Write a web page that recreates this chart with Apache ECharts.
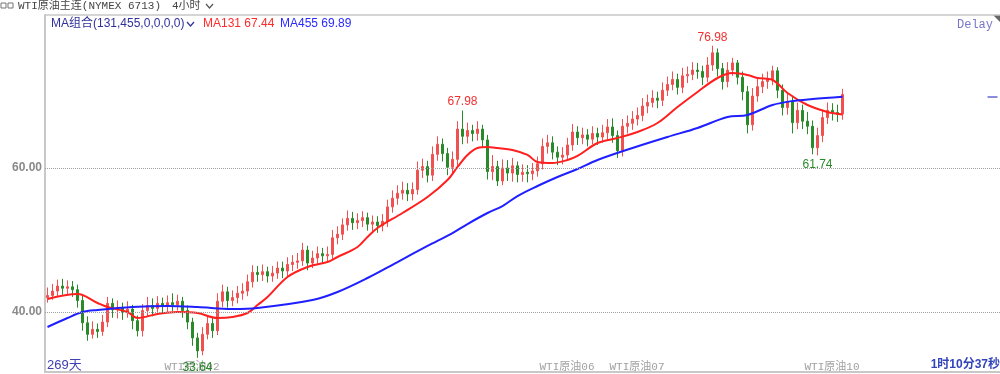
<!DOCTYPE html>
<html>
<head>
<meta charset="utf-8">
<script src="https://cdn.jsdelivr.net/npm/echarts@6/dist/echarts.min.js"></script>
<style>
  html, body { margin: 0; padding: 0; background: #fff; }
  #chart { width: 1000px; height: 374px; }
</style>
</head>
<body>
<div id="chart"></div>
<script>
// 4小时 K线, 每根约 5px，读图估值
const slotCount = 191;
const firstOpen = 42.0;
const closes = [
  42.3, 42.9, 43.6, 43.3, 43.5, 43.1, 41.6, 38.5, 36.9, 37.6,
  37.3, 38.6, 41.2, 40.3, 40.6, 40.0, 40.4, 38.8, 37.4, 40.2,
  40.9, 40.5, 41.2, 40.8, 41.3, 41.0, 41.5, 40.2, 38.6, 36.4,
  34.6, 36.9, 38.4, 37.4, 41.5, 42.8, 41.6, 42.0, 42.6, 42.9,
  44.2, 45.5, 45.2, 45.6, 45.0, 45.4, 46.1, 45.7, 46.6, 46.9,
  47.1, 48.6, 46.8, 47.5, 48.1, 47.8, 48.0, 50.3, 50.8, 52.1,
  53.0, 52.4, 52.7, 53.1, 52.2, 52.5, 52.0, 52.6, 54.6, 55.8,
  56.5, 56.9, 56.4, 57.0, 59.7, 60.2, 59.0, 61.9, 63.3, 62.0,
  60.1, 61.2, 65.4, 64.4, 65.2, 64.8, 65.4, 63.9, 59.5, 60.2,
  58.2, 60.0, 59.3, 60.3, 59.1, 59.4, 59.2, 59.6, 60.6, 63.0,
  63.5, 62.2, 61.5, 61.8, 63.2, 65.0, 64.2, 64.6, 64.0, 64.8,
  64.3, 64.9, 65.7, 64.5, 62.4, 65.8, 66.2, 66.8, 67.3, 68.6,
  69.1, 69.7, 69.4, 70.8, 71.6, 72.3, 71.2, 72.8, 73.0, 73.6,
  73.4, 72.6, 74.3, 76.0, 73.8, 72.0, 73.6, 74.6, 72.6, 70.6,
  66.0, 70.0, 71.3, 72.0, 72.3, 73.5, 70.8, 68.4, 69.2, 66.3,
  68.0, 66.5, 65.8, 62.8, 64.5, 67.0, 68.0, 67.7, 67.5, 70.2
];
const highs = [
  43.4, 43.9, 44.5, 44.6, 44.4, 44.3, 43.8, 42.3, 39.4, 38.7,
  38.4, 39.6, 42.1, 41.9, 41.6, 41.3, 41.5, 41.0, 39.5, 41.1,
  42.1, 41.9, 42.2, 42.0, 42.3, 42.6, 42.4, 42.1, 40.9, 39.2,
  37.1, 37.9, 39.4, 39.2, 42.6, 43.8, 43.5, 43.0, 43.6, 44.0,
  45.2, 46.5, 46.4, 46.6, 46.3, 46.4, 47.0, 47.0, 47.6, 47.9,
  48.2, 49.6, 49.2, 48.5, 49.1, 48.9, 49.1, 51.4, 51.9, 53.0,
  54.1, 53.9, 53.7, 54.0, 53.8, 53.4, 53.3, 53.6, 55.6, 56.9,
  57.6, 58.1, 57.9, 58.0, 60.9, 61.3, 61.0, 63.0, 64.4, 64.1,
  62.8, 62.3, 66.5, 67.98, 66.3, 66.0, 66.5, 66.0, 64.6, 61.8,
  61.0, 61.2, 61.1, 61.4, 60.9, 60.5, 60.4, 60.7, 61.6, 64.1,
  64.6, 64.4, 63.0, 62.9, 64.2, 66.1, 65.8, 65.6, 65.4, 65.8,
  65.6, 66.0, 66.8, 66.9, 65.2, 66.8, 67.3, 67.9, 68.4, 69.7,
  70.2, 70.8, 70.6, 71.9, 72.7, 73.4, 73.1, 73.9, 74.1, 74.7,
  74.6, 74.2, 75.4, 76.98, 76.6, 74.6, 74.7, 75.3, 75.0, 73.4,
  71.4, 71.1, 72.4, 73.1, 73.4, 74.2, 74.0, 71.6, 70.3, 70.0,
  69.1, 68.8, 67.8, 66.6, 65.6, 68.1, 69.1, 69.0, 68.8, 71.0
];
const lows = [
  41.3, 41.7, 42.2, 42.4, 42.4, 42.1, 40.6, 37.4, 36.0, 36.3,
  36.4, 36.7, 37.9, 39.2, 39.1, 38.9, 39.2, 37.6, 36.6, 36.6,
  39.3, 39.4, 39.8, 39.8, 40.0, 40.1, 40.2, 39.2, 37.6, 35.3,
  33.64, 34.0, 36.2, 36.4, 36.8, 40.7, 40.6, 40.8, 41.2, 41.7,
  42.2, 43.4, 44.2, 44.3, 44.1, 44.2, 44.6, 44.7, 44.9, 45.7,
  46.0, 46.4, 45.8, 46.1, 46.7, 46.8, 46.9, 47.2, 49.4, 50.0,
  51.3, 51.4, 51.5, 51.8, 51.3, 51.2, 51.0, 51.2, 51.8, 53.8,
  54.9, 55.6, 55.4, 55.5, 56.3, 58.6, 58.0, 58.2, 61.0, 60.9,
  59.0, 59.2, 60.3, 63.3, 63.4, 63.7, 63.8, 62.8, 58.4, 58.3,
  57.5, 57.6, 58.2, 58.1, 58.0, 58.1, 58.0, 58.3, 58.8, 59.8,
  62.0, 61.2, 60.4, 60.5, 61.0, 62.4, 63.2, 63.3, 63.0, 63.3,
  63.2, 63.5, 63.9, 63.5, 61.4, 61.6, 64.8, 65.3, 65.9, 66.5,
  67.6, 68.4, 68.3, 68.6, 70.0, 70.8, 70.2, 70.4, 71.8, 72.2,
  72.4, 71.5, 71.9, 73.5, 72.7, 70.9, 71.2, 72.8, 71.6, 69.4,
  64.8, 65.2, 69.2, 70.4, 71.0, 71.5, 69.7, 67.3, 67.4, 64.8,
  65.4, 65.4, 64.7, 61.9, 61.74, 63.6, 66.1, 66.6, 66.4, 66.7
];
// 均线读点 [K线序号, 值]
const ma131 = [
  [0, 41.81], [6, 42.5], [10, 41.25], [12, 40.69], [16, 40.0], [18, 39.17],
  [22, 39.72], [26, 40.0], [30, 39.86], [34, 39.17], [37, 39.31], [40, 39.86],
  [42, 40.97], [44, 42.08], [48, 44.86], [52, 46.25], [56, 46.94], [58, 47.64],
  [62, 49.03], [64, 50.42], [66, 51.67], [71, 53.75], [76, 55.97], [80, 58.33],
  [82, 60.14], [84, 61.81], [86, 62.78], [88, 62.92], [90, 62.78], [93, 62.5],
  [96, 61.81], [98, 60.83], [101, 60.69], [104, 61.11], [106, 61.67], [110, 63.47],
  [114, 64.17], [118, 65.0], [122, 66.25], [126, 68.47], [130, 70.56], [134, 72.5],
  [137, 73.19], [140, 72.92], [142, 72.5], [145, 72.22], [148, 70.42], [152, 68.75],
  [156, 67.78], [159, 67.44]
];
const ma455 = [
  [0, 37.92], [4, 39.17], [7, 40.0], [10, 40.28], [17, 40.69], [24, 40.83],
  [30, 40.69], [37, 40.42], [42, 40.56], [53, 41.67], [58, 42.78], [64, 44.72],
  [70, 46.94], [76, 49.17], [81, 50.97], [84, 52.22], [88, 53.75], [91, 54.72],
  [94, 56.11], [98, 57.5], [102, 58.75], [106, 59.86], [110, 61.11], [117, 62.78],
  [124, 64.31], [130, 65.56], [136, 67.08], [140, 67.36], [145, 68.75], [149, 69.31],
  [153, 69.58], [159, 69.89]
];
// 合约换月刻度
const tickIdx = [12, 23, 37, 98, 112, 127, 139, 151];
const tickText = ['', 'WTI原油02', '', 'WTI原油06', 'WTI原油07', '', '', 'WTI原油10'];
const gridValues = [40, 60];
const peaks = [[83, 67.98], [133, 76.98]];
const troughs = [[30, 33.64], [154, 61.74]];

const categories = [];
for (let i = 0; i < slotCount; i++) categories.push(String(i));
const candleData = closes.map((c, i) => [i === 0 ? firstOpen : closes[i - 1], c, lows[i], highs[i]]);

const monoFont = '"Liberation Mono", "Noto Sans CJK SC", monospace';
const sansFont = '"Liberation Sans", "Noto Sans CJK SC", sans-serif';

const chart = echarts.init(document.getElementById('chart'));
const option = {
  animation: false,
  grid: { left: 45, right: 0, top: 15, bottom: 2 },
  xAxis: [
    {
      type: 'category',
      data: categories,
      boundaryGap: true,
      axisLine: { lineStyle: { color: '#c8c8c8', width: 2 } },
      axisTick: {
        inside: true,
        length: 10,
        alignWithLabel: true,
        interval: (i) => tickIdx.includes(i),
        lineStyle: { color: '#b0b0b0', type: 'dotted' }
      },
      axisLabel: {
        inside: true,
        interval: (i) => tickIdx.includes(i) && tickText[tickIdx.indexOf(i)] !== '',
        formatter: (v) => tickText[tickIdx.indexOf(Number(v))] || '',
        align: 'left',
        verticalAlign: 'middle',
        margin: 5,
        padding: [0, 0, 0, 2],
        color: '#a0a0a0',
        fontSize: 11,
        fontFamily: monoFont,
        hideOverlap: false
      },
      splitLine: { show: false }
    },
    {
      type: 'category',
      data: categories,
      position: 'top',
      axisLine: { lineStyle: { color: '#c8c8c8', width: 1.5 } },
      axisTick: { show: false },
      axisLabel: { show: false }
    }
  ],
  yAxis: {
    type: 'value',
    min: 31.667,
    max: 81.25,
    axisLine: { show: true, lineStyle: { color: '#c8c8c8', width: 2 } },
    axisTick: { show: false },
    axisLabel: { show: false },
    splitLine: { show: false }
  },
  series: [
    {
      type: 'candlestick',
      data: candleData,
      barWidth: 3,
      itemStyle: {
        color: '#f05050',
        color0: '#2a8a2a',
        borderColor: '#f05050',
        borderColor0: '#2a8a2a',
        borderWidth: 1
      },
      markLine: {
        silent: true,
        symbol: 'none',
        lineStyle: { color: '#a0a0a0', type: 'dotted', width: 1 },
        label: {
          position: 'start',
          distance: 3,
          color: '#8a8a8a',
          fontSize: 12,
          fontWeight: 'bold',
          fontFamily: sansFont,
          formatter: (p) => p.value.toFixed(2)
        },
        data: gridValues.map((v) => ({ yAxis: v }))
      },
      markPoint: {
        symbol: 'circle',
        symbolSize: 1,
        itemStyle: { color: 'rgba(0,0,0,0)' },
        data: peaks.map((p) => ({
          coord: p, value: p[1].toFixed(2),
          label: { position: 'top', distance: 2, color: '#f03030', fontSize: 12, fontFamily: sansFont }
        })).concat(troughs.map((p) => ({
          coord: p, value: p[1].toFixed(2),
          label: { position: 'bottom', distance: 3, color: '#2a8a2a', fontSize: 12, fontFamily: sansFont }
        })))
      }
    },
    {
      name: 'MA131',
      type: 'line',
      data: ma131,
      smooth: 0.35,
      showSymbol: false,
      lineStyle: { color: '#ff1f1f', width: 2 }
    },
    {
      name: 'MA455',
      type: 'line',
      data: ma455,
      smooth: 0.35,
      showSymbol: false,
      lineStyle: { color: '#1f1fff', width: 2 },
      markLine: {
        silent: true,
        symbol: 'none',
        label: { show: false },
        lineStyle: { color: '#8c8cdc', width: 2, type: 'solid' },
        data: [[{ coord: [188, 69.89] }, { coord: [190, 69.89] }]]
      }
    }
  ],
  graphic: [
    { type: 'rect', shape: { x: 1, y: 3, width: 5, height: 5 }, style: { fill: 'none', stroke: '#777', lineWidth: 1 } },
    { type: 'rect', shape: { x: 8, y: 3, width: 5, height: 5 }, style: { fill: 'none', stroke: '#777', lineWidth: 1 } },
    { type: 'text', x: 18, y: 6, style: { text: 'WTI原油主连(NYMEX 6713)', fill: '#444', font: '11px ' + monoFont, verticalAlign: 'middle' } },
    { type: 'text', x: 172, y: 6, style: { text: '4小时', fill: '#444', font: '11px ' + monoFont, verticalAlign: 'middle' } },
    { type: 'polyline', shape: { points: [[206, 4], [209.5, 8], [213, 4]] }, style: { stroke: '#555', lineWidth: 1.2, fill: 'none' } },
    { type: 'text', x: 51, y: 24, style: { text: 'MA组合(131,455,0,0,0,0)', fill: '#30309a', font: '12px ' + sansFont, verticalAlign: 'middle' } },
    { type: 'polyline', shape: { points: [[187, 22], [190.5, 26], [194, 22]] }, style: { stroke: '#30309a', lineWidth: 1.2, fill: 'none' } },
    { type: 'text', x: 203, y: 24, style: { text: 'MA131 67.44', fill: '#ff2a2a', font: '12px ' + sansFont, verticalAlign: 'middle' } },
    { type: 'text', x: 280, y: 24, style: { text: 'MA455 69.89', fill: '#2a2aff', font: '12px ' + sansFont, verticalAlign: 'middle' } },
    { type: 'text', x: 993, y: 25, style: { text: 'Delay', fill: '#7777c8', font: '12px ' + monoFont, align: 'right', verticalAlign: 'middle' } },
    { type: 'polygon', shape: { points: [[993, 15], [1000, 15], [1000, 22]] }, style: { fill: '#666' } },
    { type: 'text', x: 47, y: 365, style: { text: '269天', fill: '#4040b0', font: '13px ' + sansFont, verticalAlign: 'middle' } },
    { type: 'text', x: 1000, y: 365, style: { text: '1时10分37秒', fill: '#3344bb', font: 'bold 12px ' + sansFont, align: 'right', verticalAlign: 'middle' } }
  ]
};
chart.setOption(option);
</script>
</body>
</html>
